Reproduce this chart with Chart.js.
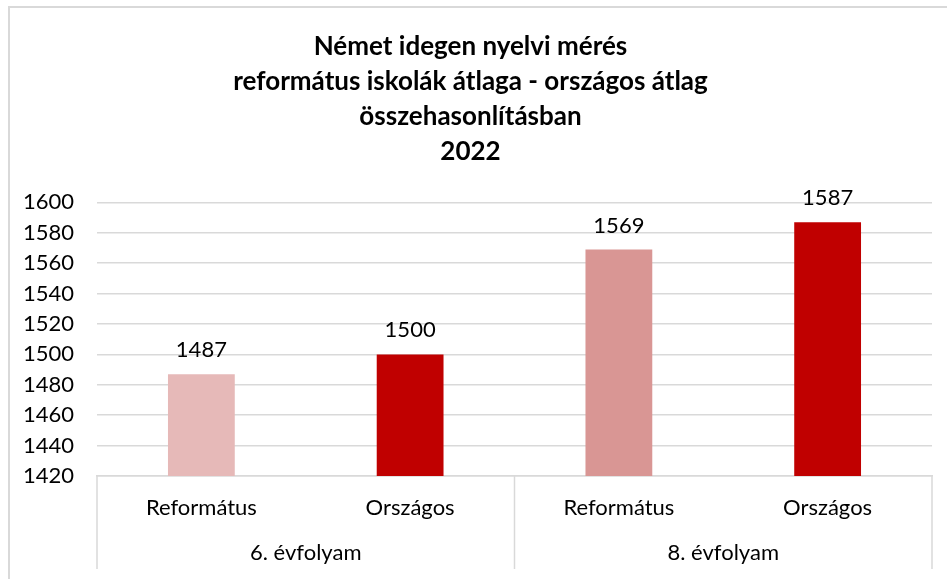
<!DOCTYPE html>
<html>
<head>
<meta charset="utf-8">
<script src="https://cdn.jsdelivr.net/npm/chart.js@4.4.1/dist/chart.umd.min.js"></script>
<style>
  html, body { margin: 0; padding: 0; background: #fff; }
  #wrap { position: relative; width: 947px; height: 579px; overflow: hidden; }
  #frame { position: absolute; left: 8px; top: 6px; width: 960px; height: 600px;
           border-left: 2px solid #d9d9d9; border-top: 2px solid #d9d9d9; pointer-events: none; }
</style>
</head>
<body>
<div id="wrap">
  <canvas id="bar" width="947" height="579"></canvas>
  <div id="frame"></div>
</div>
<script>
// chart data
const categories = ['Református', 'Országos', 'Református', 'Országos'];
const groups = ['6. évfolyam', '8. évfolyam'];
const values = [1487, 1500, 1569, 1587];
const barColors = ['#e6b9b8', '#c00000', '#d99694', '#c00000'];
const titleLines = ['Német idegen nyelvi mérés', 'református iskolák átlaga - országos átlag', 'összehasonlításban', '2022'];
const yMin = 1420, yMax = 1600, yStep = 20;

const fontFamily = 'Lato, "Open Sans", sans-serif';
const textColor = '#000';

// value labels above the bars + group separators
const extras = {
    id: 'extras',
    afterDatasetsDraw(c) {
        const ctx = c.ctx;
        const meta = c.getDatasetMeta(0);
        ctx.save();
        ctx.font = '22px ' + fontFamily;
        ctx.fillStyle = textColor;
        ctx.textAlign = 'center';
        ctx.textBaseline = 'middle';
        meta.data.forEach(function (bar, i) {
            ctx.fillText(values[i], bar.x, bar.y - 24);
        });
        ctx.restore();
    },
    afterDraw(c) {
        const ctx = c.ctx;
        const xs = c.scales.x;
        const x2 = c.scales.x2;
        const mid = (xs.getPixelForTick(1) + xs.getPixelForTick(2)) / 2;
        ctx.save();
        ctx.strokeStyle = '#d9d9d9';
        ctx.lineWidth = 1.5;
        [xs.left, mid, xs.right].forEach(function (px) {
            ctx.beginPath();
            ctx.moveTo(px, xs.top);
            ctx.lineTo(px, x2.bottom - 10);
            ctx.stroke();
        });
        ctx.restore();
    }
};

var chart = new Chart(document.getElementById('bar').getContext('2d'), {
    type: 'bar',
    data: {
        labels: categories,
        datasets: [{
            data: values,
            backgroundColor: barColors,
            barPercentage: 0.32,
            categoryPercentage: 1
        }]
    },
    options: {
        responsive: false,
        animation: false,
        layout: { padding: { left: 9, right: 15, top: 7, bottom: 0 } },
        plugins: {
            legend: { display: false },
            tooltip: { enabled: false },
            title: {
                display: true,
                text: titleLines,
                color: textColor,
                font: { family: fontFamily, size: 26, weight: 'bold', lineHeight: 1.35 },
                padding: { top: 22, bottom: 33 }
            }
        },
        scales: {
            y: {
                min: yMin,
                max: yMax,
                ticks: {
                    stepSize: yStep, color: textColor, padding: 23,
                    font: { family: fontFamily, size: 22 },
                    callback: function (v) { return String(v); }
                },
                grid: { color: '#d9d9d9', lineWidth: 1.5, drawTicks: false },
                border: { display: false },
                afterFit(s) { s.width = 88; }
            },
            x: {
                ticks: { color: textColor, padding: 19, font: { family: fontFamily, size: 22 } },
                grid: { display: false, drawTicks: false },
                border: { display: true, color: '#d9d9d9', width: 1.5 },
                afterFit(s) { s.height = 55; }
            },
            x2: {
                type: 'category',
                position: 'bottom',
                labels: groups,
                offset: true,
                ticks: { color: textColor, padding: 9, font: { family: fontFamily, size: 22 } },
                grid: { display: false, drawTicks: false },
                border: { display: false },
                afterFit(s) { s.height = 48; }
            }
        }
    },
    plugins: [extras]
});
</script>
</body>
</html>
